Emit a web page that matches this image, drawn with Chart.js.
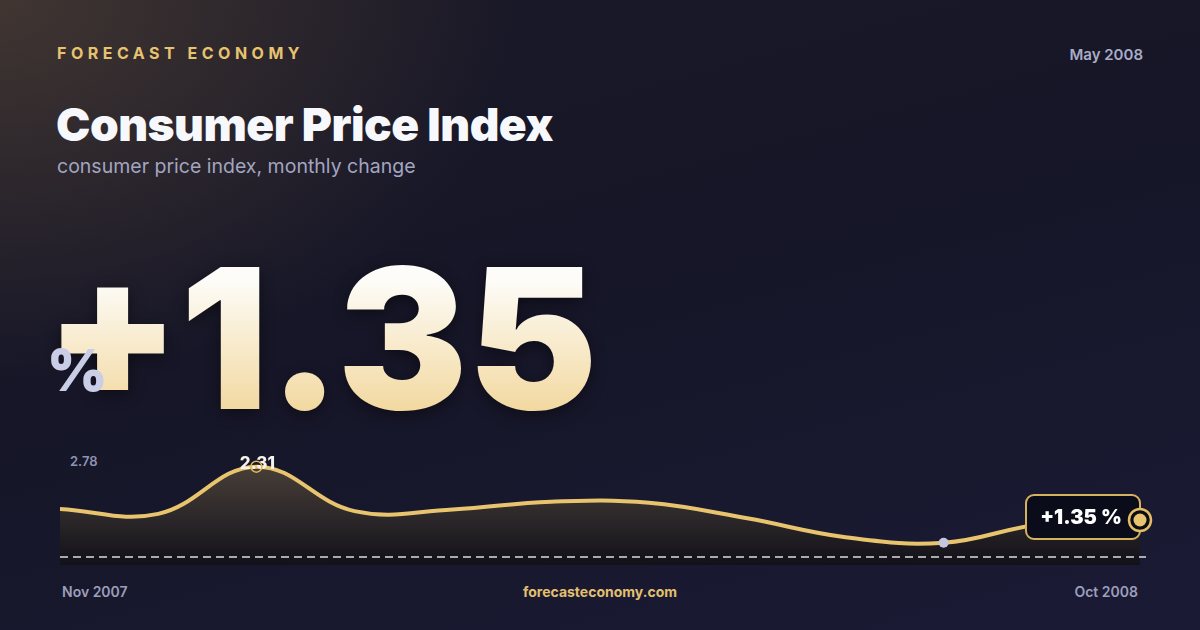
<!DOCTYPE html>
<html>
<head>
<meta charset="utf-8">
<script src="https://cdn.jsdelivr.net/npm/chart.js@4/dist/chart.umd.min.js"></script>
<style>
  html, body { margin: 0; padding: 0; }
  body {
    width: 1200px; height: 630px; overflow: hidden; position: relative;
    font-family: Inter, "Noto Sans", sans-serif;
    background:
      radial-gradient(ellipse 520px 380px at 0% 0%, rgba(110, 88, 62, 0.45), rgba(110, 88, 62, 0) 100%),
      linear-gradient(165deg, #1b1927 0%, #161628 45%, #1a1a35 100%);
  }
  .abs { position: absolute; white-space: nowrap; }
  #brand { left: 57px; top: 43px; font-size: 16px; font-weight: 700; letter-spacing: 4.5px; color: #e8c36f; }
  #date { right: 57px; top: 45px; font-size: 15px; font-weight: 600; color: #a9acc6; }
  #title { left: 56px; top: 96px; font-size: 46px; font-weight: 900; color: #f7f8fc; letter-spacing: -0.5px; }
  #subtitle { left: 57px; top: 154px; font-size: 19.5px; font-weight: 400; color: #a2a5c0; }
  #big {
    left: 45px; top: 241px; font-size: 195px; font-weight: 900; line-height: 1; letter-spacing: 0;
    background: linear-gradient(180deg, #fdfcf8 20%, #f2d79c 90%);
    -webkit-background-clip: text; background-clip: text; color: transparent;
    filter: drop-shadow(0 4px 8px rgba(0, 0, 0, 0.45));
  }
  #unit { left: 47px; top: 335px; font-size: 58px; font-weight: 900; color: #c9cde6; }
  .range { left: 70px; font-size: 13px; font-weight: 600; color: #8f93b2; }
  #rmax { top: 453px; }
  #rmin { top: 540px; }
  .foot { top: 583px; font-size: 14px; font-weight: 600; color: #9c9fba; }
  #fstart { left: 62px; }
  #fend { right: 62px; }
  #site { left: 0; width: 1200px; text-align: center; color: #e3c06f; font-weight: 700; }
  #wrap { position: absolute; left: 60px; top: 430px; width: 1110px; height: 135px; }
</style>
</head>
<body>
<div class="abs" id="brand">FORECAST ECONOMY</div>
<div class="abs" id="date">May 2008</div>
<div class="abs" id="title">Consumer Price Index</div>
<div class="abs" id="subtitle">consumer price index, monthly change</div>
<div class="abs" id="big"></div>
<div class="abs" id="unit">%</div>
<div class="abs range" id="rmax"></div>
<div class="abs range" id="rmin"></div>
<div id="wrap"><canvas id="cpi"></canvas></div>
<div class="abs foot" id="fstart"></div>
<div class="abs foot" id="site">forecasteconomy.com</div>
<div class="abs foot" id="fend"></div>

<script>
const months = ["Nov 2007", "Dec 2007", "Jan 2008", "Feb 2008", "Mar 2008", "Apr 2008",
  "May 2008", "Jun 2008", "Jul 2008", "Aug 2008", "Sep 2008", "Oct 2008"];
const cpiChange = [1.55, 1.46, 2.31, 1.51, 1.54, 1.68, 1.66, 1.38, 1.04, 0.94, 1.28, 1.35];
const rangeLabels = ["2.78", "-0.11"];

const last = cpiChange[cpiChange.length - 1];
const fmt = (v) => (v >= 0 ? "+" : "") + v.toFixed(2);

document.getElementById("big").textContent = fmt(last);
document.getElementById("rmax").textContent = rangeLabels[0];
document.getElementById("rmin").textContent = rangeLabels[1];
document.getElementById("fstart").textContent = months[0];
document.getElementById("fend").textContent = months[months.length - 1];

const maxIdx = cpiChange.indexOf(Math.max(...cpiChange));
const minIdx = cpiChange.indexOf(Math.min(...cpiChange));

// extras: dashed base line, peak/low markers, end badge
const markers = {
  id: "markers",
  afterDatasetsDraw(chart) {
    const { ctx, chartArea } = chart;
    const pts = chart.getDatasetMeta(0).data;
    ctx.save();

    ctx.strokeStyle = "rgba(255,255,255,0.85)";
    ctx.lineWidth = 1.5;
    ctx.setLineDash([8, 5]);
    ctx.beginPath();
    ctx.moveTo(chartArea.left, chartArea.bottom - 8);
    ctx.lineTo(chartArea.right + 6, chartArea.bottom - 8);
    ctx.stroke();
    ctx.setLineDash([]);

    // peak
    const pk = pts[maxIdx];
    ctx.fillStyle = "#f5f3ee";
    ctx.font = "800 17px Inter";
    ctx.textAlign = "center";
    ctx.textBaseline = "alphabetic";
    ctx.fillText(cpiChange[maxIdx].toFixed(2), pk.x + 1, pk.y + 2);
    ctx.strokeStyle = "#e2b95c";
    ctx.lineWidth = 1.5;
    ctx.beginPath();
    ctx.arc(pk.x, pk.y, 5.5, 0, Math.PI * 2);
    ctx.stroke();

    // low
    const lo = pts[minIdx];
    ctx.fillStyle = "#c3c6de";
    ctx.beginPath();
    ctx.arc(lo.x, lo.y, 5, 0, Math.PI * 2);
    ctx.fill();

    // end badge
    const end = pts[pts.length - 1];
    const bx = end.x - 114, by = end.y - 25, bw = 114, bh = 44;
    ctx.fillStyle = "#0b0c19";
    ctx.strokeStyle = "#d6b25e";
    ctx.lineWidth = 2;
    ctx.beginPath();
    ctx.roundRect(bx, by, bw, bh, 8);
    ctx.fill();
    ctx.stroke();
    ctx.fillStyle = "#ffffff";
    ctx.font = "900 20px Inter";
    ctx.textBaseline = "middle";
    ctx.fillText(fmt(last) + " %", bx + 55, by + 23);

    ctx.fillStyle = "#0b0c19";
    ctx.beginPath();
    ctx.arc(end.x, end.y, 11, 0, Math.PI * 2);
    ctx.fill();
    ctx.strokeStyle = "#e2bd63";
    ctx.lineWidth = 2.5;
    ctx.stroke();
    ctx.fillStyle = "#e8c46e";
    ctx.beginPath();
    ctx.arc(end.x, end.y, 6.5, 0, Math.PI * 2);
    ctx.fill();

    ctx.restore();
  },
};

const ctx = document.getElementById("cpi").getContext("2d");

new Chart(ctx, {
  type: "line",
  data: {
    labels: months,
    datasets: [
      {
        label: "CPI monthly change",
        data: cpiChange,
        borderColor: "#e8c46e",
        borderWidth: 4,
        tension: 0.4,
        pointRadius: 0,
        fill: "start",
        backgroundColor: (c) => {
          const area = c.chart.chartArea;
          if (!area) return "#2e2929";
          const g = c.chart.ctx.createLinearGradient(0, area.top + 30, 0, area.bottom);
          g.addColorStop(0, "#4b4138");
          g.addColorStop(0.55, "#2c2729");
          g.addColorStop(1, "#121119");
          return g;
        },
      },
    ],
  },
  options: {
    responsive: true,
    maintainAspectRatio: false,
    animation: false,
    layout: { padding: { left: 0, right: 30, top: 0, bottom: 0 } },
    plugins: { legend: { display: false }, tooltip: { enabled: false } },
    scales: {
      x: { display: false, offset: false },
      y: { display: false, min: 0.54, max: 2.97 },
    },
  },
  plugins: [markers],
});
</script>
</body>
</html>
